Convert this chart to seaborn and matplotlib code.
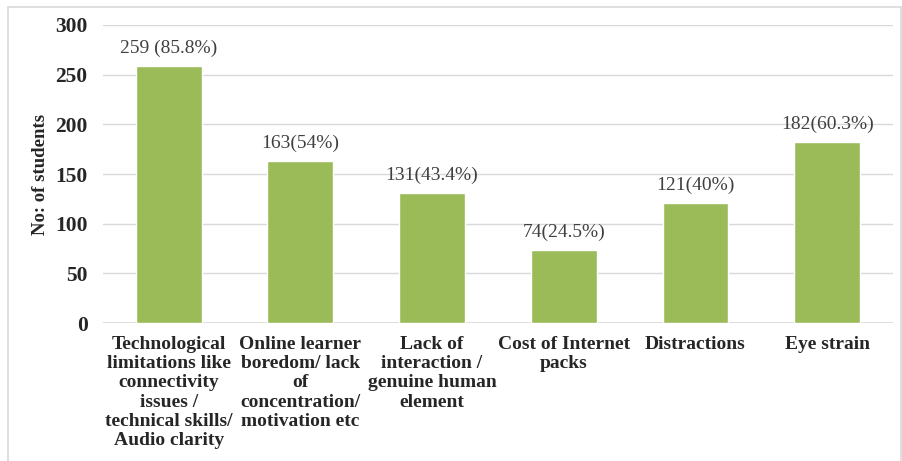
import matplotlib.pyplot as plt
import matplotlib.patches as mpatches
import seaborn as sns
import pandas as pd

categories = [
    "Technological\nlimitations like\nconnectivity\nissues /\ntechnical skills/\nAudio clarity",
    "Online learner\nboredom/ lack\nof\nconcentration/\nmotivation etc",
    "Lack of\ninteraction /\ngenuine human\nelement",
    "Cost of Internet\npacks",
    "Distractions",
    "Eye strain",
]
students = [259, 163, 131, 74, 121, 182]
value_labels = ["259 (85.8%)", "163(54%)", "131(43.4%)", "74(24.5%)", "121(40%)", "182(60.3%)"]

df = pd.DataFrame({"reason": categories, "students": students})

sns.set_style("white")
plt.rcParams["font.family"] = ["Liberation Serif", "DejaVu Serif"]

fig = plt.figure(figsize=(9.02, 4.61), dpi=100)
ax = fig.add_axes([0.114, 0.299, 0.876, 0.647])

# light frame around the whole chart
fig.patches.append(mpatches.Rectangle((0.009, -0.01), 0.99, 0.995, transform=fig.transFigure,
                                      fill=False, edgecolor="#d9d9d9", linewidth=1.2))

sns.barplot(data=df, x="reason", y="students", color="#9BBB59", width=0.5,
            saturation=1, ax=ax, zorder=3)

for i, (v, lab) in enumerate(zip(students, value_labels)):
    ax.text(i, v + 9, lab, ha="center", va="bottom", fontsize=14, color="#404040")

ax.set_ylim(0, 300)
ax.set_yticks(range(0, 301, 50))
ax.set_xlim(-0.5, 5.5)
ax.yaxis.grid(True, color="#d9d9d9", linewidth=1, zorder=0)
ax.set_axisbelow(True)
sns.despine(ax=ax, left=True, bottom=True, top=True, right=True)
ax.axhline(0, color="#d9d9d9", linewidth=1.2, zorder=1)

ax.set_xlabel("")
ax.set_ylabel("No: of students", fontsize=13.5, fontweight="bold", color="#262626", labelpad=4)
ax.tick_params(axis="y", length=0, pad=11, labelsize=15.5, labelcolor="#262626")
ax.tick_params(axis="x", length=0, pad=9, labelsize=14, labelcolor="#262626")
for t in ax.get_yticklabels():
    t.set_fontweight("bold")
for t in ax.get_xticklabels():
    t.set_fontweight("bold")
    t.set_linespacing(1.18)

fig.savefig("out.png", dpi=100)
